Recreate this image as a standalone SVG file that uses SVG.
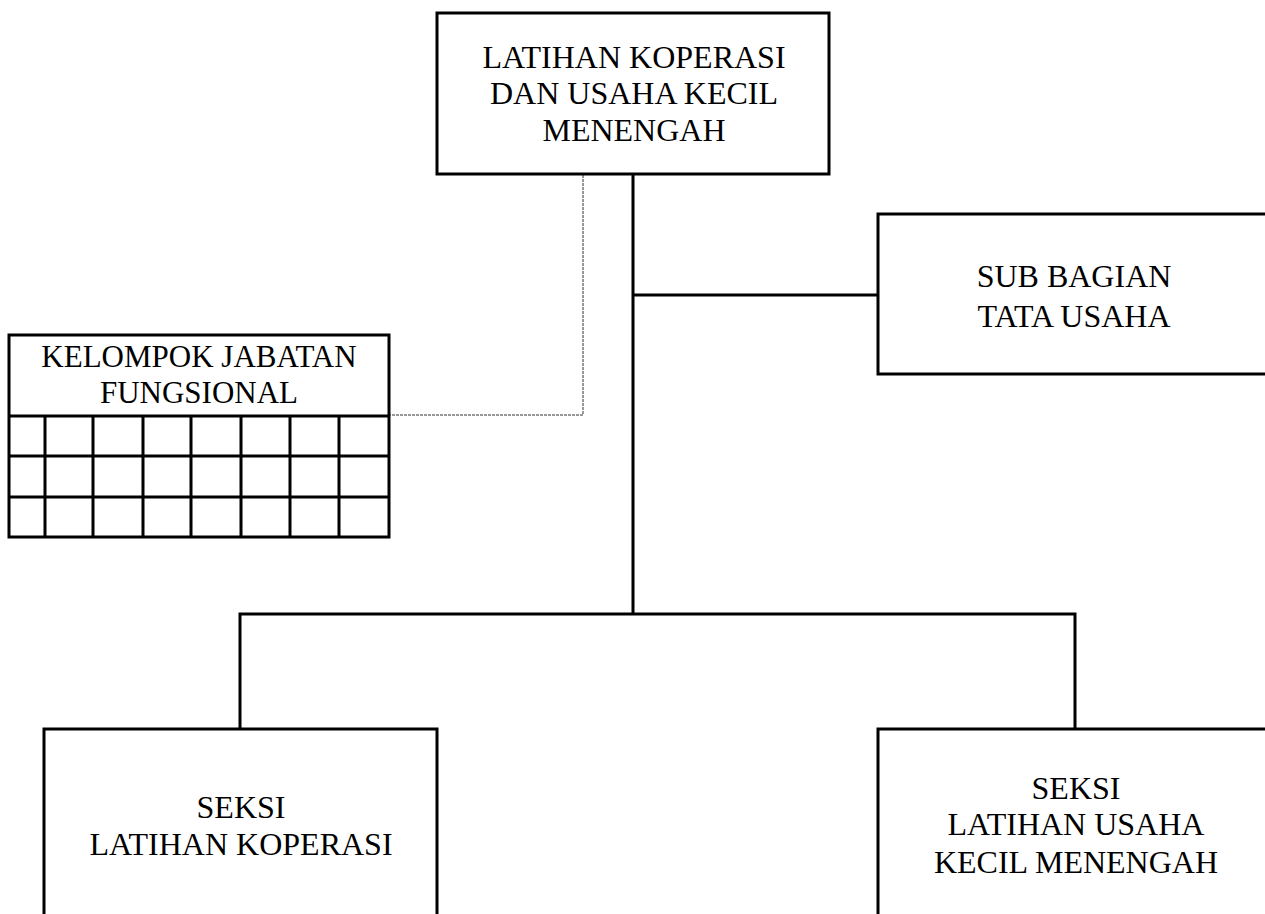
<svg xmlns="http://www.w3.org/2000/svg" width="1265" height="914" viewBox="0 0 1265 914">
<style>
.box{fill:#fff;stroke:#000;stroke-width:3}
.ln{fill:none;stroke:#000;stroke-width:3}
.dash{fill:none;stroke:#333;stroke-width:1;stroke-dasharray:3 1}
text{font-family:"Liberation Serif","Times New Roman",serif;font-size:32px;fill:#000;text-anchor:middle}
</style>
<rect width="1265" height="914" fill="#fff"/>
<g id="connectors">
<path class="ln" d="M633 174V614M633 295H878M240 614H1075M240 612.5V729M1075 612.5V729"/>
<path class="dash" d="M583 175V415H389"/>
</g>
<g id="kepala">
<rect class="box" x="437" y="13" width="392" height="161"/>
<text x="634" y="68">LATIHAN KOPERASI</text>
<text x="634" y="104">DAN USAHA KECIL</text>
<text x="634" y="141">MENENGAH</text>
</g>
<g id="subbagian">
<rect class="box" x="878" y="214" width="400" height="160"/>
<text x="1074" y="287">SUB BAGIAN</text>
<text x="1074" y="327">TATA USAHA</text>
</g>
<g id="fungsional">
<rect class="box" x="9" y="335" width="380" height="202"/>
<path class="ln" d="M9 416H389M9 456H389M9 497H389M45 416V537M93 416V537M143 416V537M191 416V537M241 416V537M290 416V537M339 416V537"/>
<text x="199" y="367" style="font-size:31px">KELOMPOK JABATAN</text>
<text x="199" y="403" style="font-size:31px">FUNGSIONAL</text>
</g>
<g id="seksi1">
<rect class="box" x="44" y="729" width="393" height="200"/>
<text x="241" y="818">SEKSI</text>
<text x="241" y="855">LATIHAN KOPERASI</text>
</g>
<g id="seksi2">
<rect class="box" x="878" y="729" width="400" height="200"/>
<text x="1076" y="799">SEKSI</text>
<text x="1076" y="835">LATIHAN USAHA</text>
<text x="1076" y="873">KECIL MENENGAH</text>
</g>
</svg>
